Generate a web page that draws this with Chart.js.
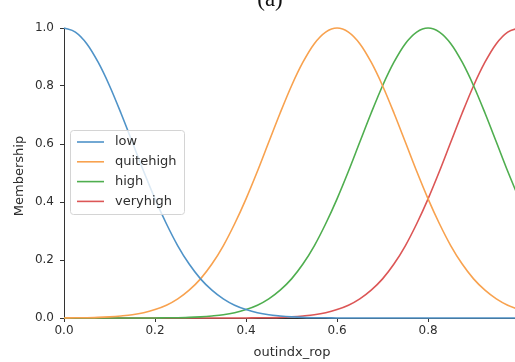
<!DOCTYPE html>
<html>
<head>
<meta charset="utf-8">
<script src="https://cdn.jsdelivr.net/npm/chart.js@4/dist/chart.umd.min.js"></script>
<style>
  html, body { margin: 0; padding: 0; background: #ffffff; overflow: hidden; }
  #wrap { width: 515px; height: 362px; position: relative; }
</style>
</head>
<body>
<div id="wrap"><canvas id="c" width="515" height="362"></canvas></div>
<script>
// ---- data ----
const xValues = [0.000,0.025,0.050,0.075,0.100,0.125,0.150,0.175,0.200,0.225,
                 0.250,0.275,0.300,0.325,0.350,0.375,0.400,0.425,0.450,0.475,
                 0.500,0.525,0.550,0.575,0.600,0.625,0.650,0.675,0.700,0.725,
                 0.750,0.775,0.800,0.825,0.850,0.875,0.900,0.925,0.950,0.975,1.000];

const seriesNames = ["low", "quitehigh", "high", "veryhigh"];

const low = [1.000,0.986,0.946,0.882,0.801,0.707,0.607,0.506,0.411,0.325,
             0.249,0.186,0.135,0.096,0.066,0.044,0.029,0.018,0.011,0.007,
             0.004,0.002,0.001,0.001,0.000,0.000,0.000,0.000,0.000,0.000,
             0.000,0.000,0.000,0.000,0.000,0.000,0.000,0.000,0.000,0.000,0.000];

const quitehigh = [0.000,0.001,0.001,0.002,0.004,0.007,0.011,0.018,0.029,0.044,
                   0.066,0.096,0.135,0.186,0.249,0.325,0.411,0.506,0.607,0.707,
                   0.801,0.882,0.946,0.986,1.000,0.986,0.946,0.882,0.801,0.707,
                   0.607,0.506,0.411,0.325,0.249,0.186,0.135,0.096,0.066,0.044,0.029];

const high = [0.000,0.000,0.000,0.000,0.000,0.000,0.000,0.000,0.000,0.001,
              0.001,0.002,0.004,0.007,0.011,0.018,0.029,0.044,0.066,0.096,
              0.135,0.186,0.249,0.325,0.411,0.506,0.607,0.707,0.801,0.882,
              0.946,0.986,1.000,0.986,0.946,0.882,0.801,0.707,0.607,0.506,0.411];

const veryhigh = [0.000,0.000,0.000,0.000,0.000,0.000,0.000,0.000,0.000,0.000,
                  0.000,0.000,0.000,0.000,0.000,0.000,0.000,0.001,0.001,0.002,
                  0.004,0.007,0.011,0.018,0.029,0.044,0.066,0.096,0.135,0.186,
                  0.249,0.325,0.411,0.506,0.607,0.707,0.801,0.882,0.946,0.986,1.000];

const xTicks = [0.0, 0.2, 0.4, 0.6, 0.8];
const yTicks = [0.0, 0.2, 0.4, 0.6, 0.8, 1.0];
const xTitle = "outindx_rop";
const yTitle = "Membership";
const panelLabel = "(a)";

// ---- styling ----
const colors = ["#4f93c8", "#f8a24f", "#4fae4f", "#dc5656"];
const textColor = "#2e2e2e";
const axisColor = "#333333";
const FONT = '"DejaVu Sans", sans-serif';

Chart.defaults.font.family = FONT;
Chart.defaults.font.size = 12;
Chart.defaults.color = textColor;

const seriesValues = [low, quitehigh, high, veryhigh];
const datasets = seriesNames.map((name, i) => ({
  label: name,
  data: xValues.map((x, j) => ({ x: x, y: seriesValues[i][j] })),
  borderColor: colors[i],
  backgroundColor: colors[i],
  borderWidth: 1.6,
  pointRadius: 0,
  cubicInterpolationMode: "monotone",
  fill: false,
  clip: { left: 2, top: 3, right: 0, bottom: 3 }
}));

const overlay = {
  id: "overlay",
  afterDraw(chart) {
    const ctx = chart.ctx;
    const ca = chart.chartArea;
    ctx.save();
    // legend box
    const lx = 70.5, ly = 130.5, lw = 114, lh = 84, r = 3;
    ctx.beginPath();
    ctx.moveTo(lx + r, ly);
    ctx.lineTo(lx + lw - r, ly);
    ctx.quadraticCurveTo(lx + lw, ly, lx + lw, ly + r);
    ctx.lineTo(lx + lw, ly + lh - r);
    ctx.quadraticCurveTo(lx + lw, ly + lh, lx + lw - r, ly + lh);
    ctx.lineTo(lx + r, ly + lh);
    ctx.quadraticCurveTo(lx, ly + lh, lx, ly + lh - r);
    ctx.lineTo(lx, ly + r);
    ctx.quadraticCurveTo(lx, ly, lx + r, ly);
    ctx.closePath();
    ctx.fillStyle = "rgba(255,255,255,0.8)";
    ctx.fill();
    ctx.strokeStyle = "#d4d4d4";
    ctx.lineWidth = 1;
    ctx.stroke();
    chart.data.datasets.forEach((ds, i) => {
      const y = 142 + i * 19.8;
      ctx.beginPath();
      ctx.strokeStyle = ds.borderColor;
      ctx.lineWidth = 1.6;
      ctx.moveTo(77, y);
      ctx.lineTo(104, y);
      ctx.stroke();
      ctx.fillStyle = textColor;
      ctx.font = "13px " + FONT;
      ctx.textAlign = "left";
      ctx.textBaseline = "middle";
      ctx.fillText(ds.label, 115, y);
    });
    // axis titles
    ctx.fillStyle = textColor;
    ctx.font = "13px " + FONT;
    ctx.textAlign = "center";
    ctx.textBaseline = "middle";
    ctx.fillText(xTitle, 292, 353);
    ctx.save();
    ctx.translate(20, (ca.top + ca.bottom) / 2 + 3);
    ctx.rotate(-Math.PI / 2);
    ctx.fillText(yTitle, 0, 0);
    ctx.restore();
    // panel label (cropped at top)
    ctx.font = '23px "Liberation Serif", serif';
    ctx.textAlign = "center";
    ctx.textBaseline = "alphabetic";
    ctx.fillStyle = "#111111";
    ctx.fillText(panelLabel, 270, 6);
    ctx.restore();
  }
};

new Chart(document.getElementById("c"), {
  type: "line",
  data: { datasets: datasets },
  options: {
    responsive: false,
    animation: false,
    events: [],
    layout: { padding: { top: 28, left: 0, right: 0, bottom: 0 } },
    plugins: { legend: { display: false }, tooltip: { enabled: false } },
    scales: {
      x: {
        type: "linear",
        min: 0,
        max: 0.991,
        afterBuildTicks: s => { s.ticks = xTicks.map(v => ({ value: v })); },
        afterFit: s => { s.height = 44; },
        ticks: { callback: v => Number(v).toFixed(1), maxRotation: 0, autoSkip: false, padding: 2, color: textColor },
        grid: { drawOnChartArea: false, drawTicks: true, tickLength: 4, color: axisColor, lineWidth: 1 },
        border: { display: true, color: axisColor, width: 1 }
      },
      y: {
        type: "linear",
        min: 0,
        max: 1,
        afterBuildTicks: s => { s.ticks = yTicks.map(v => ({ value: v })); },
        afterFit: s => { s.width = 64; },
        ticks: { callback: v => Number(v).toFixed(1), padding: 6, color: textColor },
        grid: { drawOnChartArea: false, drawTicks: true, tickLength: 4, color: axisColor, lineWidth: 1 },
        border: { display: true, color: axisColor, width: 1 }
      }
    }
  },
  plugins: [overlay]
});
</script>
</body>
</html>
